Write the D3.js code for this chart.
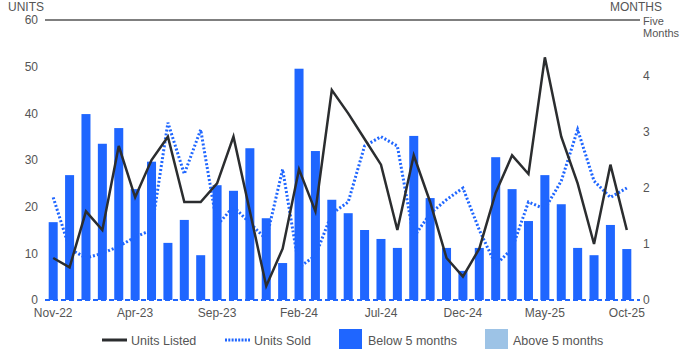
<!DOCTYPE html>
<html>
<head>
<meta charset="utf-8">
<script src="https://cdn.jsdelivr.net/npm/d3@7"></script>
<style>
  html, body { margin: 0; padding: 0; background: #fff; }
  svg { display: block; font-family: "Liberation Sans", Arial, sans-serif; }
</style>
</head>
<body>
<svg id="chart" width="700" height="350"></svg>
<script>
// Monthly categories
const months = [
  "Nov-22","Dec-22","Jan-23","Feb-23","Mar-23","Apr-23","May-23","Jun-23","Jul-23","Aug-23","Sep-23","Oct-23",
  "Nov-23","Dec-23","Jan-24","Feb-24","Mar-24","Apr-24","May-24","Jun-24","Jul-24","Aug-24","Sep-24","Oct-24",
  "Nov-24","Dec-24","Jan-25","Feb-25","Mar-25","Apr-25","May-25","Jun-25","Jul-25","Aug-25","Sep-25","Oct-25"
];

// Units listed per month (left axis)
const unitsListed = [
  9, 7, 19, 15, 33, 22, 30, 35, 21, 21, 25, 35,
  19, 3, 11, 28, 19, 45, 40, 34.5, 29, 15, 31, 21,
  9, 5, 11, 23, 31, 27, 52, 35, 25, 12, 29, 15
];

// Units sold per month (left axis)
const unitsSold = [
  22, 11, 9, 10, 11.5, 13.5, 15, 38, 27, 36.5, 16, 20,
  16.5, 13, 28, 7, 9.5, 18.5, 21, 33, 35, 33, 13.5, 18.5,
  21.5, 24, 15, 7.5, 11, 21, 19.5, 25.5, 36.5, 25.5, 22, 24
];

// Months of inventory (right axis)
const monthsSupply = [
  1.39, 2.23, 3.32, 2.79, 3.07, 1.98, 2.47, 1.02, 1.43, 0.80, 2.05, 1.95,
  2.71, 1.46, 0.66, 4.13, 2.66, 1.79, 1.55, 1.25, 1.09, 0.93, 2.93, 1.82,
  0.93, 0.52, 0.93, 2.55, 1.98, 1.41, 2.23, 1.71, 0.93, 0.80, 1.34, 0.91
];

const leftTicks = [0, 10, 20, 30, 40, 50, 60];
const rightTicks = [0, 1, 2, 3, 4];
const xTickLabels = ["Nov-22","Apr-23","Sep-23","Feb-24","Jul-24","Dec-24","May-25","Oct-25"];
const threshold = 5;

const colors = {
  below: "#1F66FF",
  above: "#9DC3E6",
  listed: "#2B2D2F",
  sold: "#1F66FF",
  text: "#555555"
};

const svg = d3.select("#chart");
const plot = { left: 45, right: 635, top: 20, bottom: 300 };

const x = d3.scaleBand()
  .domain(months)
  .range([plot.left, plot.right])
  .paddingInner(0.45)
  .paddingOuter(0.225);

const yL = d3.scaleLinear().domain([0, 60]).range([plot.bottom, plot.top]);
const yR = d3.scaleLinear().domain([0, 5]).range([plot.bottom, plot.top]);
const cx = m => x(m) + x.bandwidth() / 2;

// top reference line
svg.append("line")
  .attr("x1", plot.left).attr("x2", 640)
  .attr("y1", yL(60)).attr("y2", yL(60))
  .attr("stroke", "#555").attr("stroke-width", 1.5);

// left axis labels
const leftAxis = d3.axisLeft(yL).tickValues(leftTicks).tickSize(0).tickPadding(7);
const gl = svg.append("g").attr("transform", `translate(${plot.left},0)`).call(leftAxis);
gl.select(".domain").remove();
gl.selectAll("text").attr("fill", colors.text).style("font-size", "12px");

// right axis labels
const rightAxis = d3.axisRight(yR).tickValues(rightTicks).tickFormat(d3.format("d"))
  .tickSize(0).tickPadding(0);
const gr = svg.append("g").attr("transform", `translate(643,0)`).call(rightAxis);
gr.select(".domain").remove();
gr.selectAll("text").attr("fill", colors.text).style("font-size", "12px");
svg.append("text").attr("x", 643).attr("y", 24.5)
  .attr("fill", colors.text).style("font-size", "11px").text("Five");
svg.append("text").attr("x", 643).attr("y", 36.5)
  .attr("fill", colors.text).style("font-size", "11px").text("Months");

// axis titles
svg.append("text").attr("x", 8).attr("y", 11).attr("fill", colors.text)
  .style("font-size", "12px").text("UNITS");
svg.append("text").attr("x", 610).attr("y", 11).attr("fill", colors.text)
  .style("font-size", "12px").text("MONTHS");

// bars (months of inventory)
svg.append("g").selectAll("rect")
  .data(months.map((m, i) => ({ m, v: monthsSupply[i] })))
  .join("rect")
  .attr("x", d => x(d.m))
  .attr("width", x.bandwidth())
  .attr("y", d => yR(d.v))
  .attr("height", d => yR(0) - yR(d.v))
  .attr("fill", d => d.v < threshold ? colors.below : colors.above);

// baseline
svg.append("line")
  .attr("x1", plot.left).attr("x2", 640)
  .attr("y1", plot.bottom).attr("y2", plot.bottom)
  .attr("stroke", colors.below).attr("stroke-width", 2)
  .attr("stroke-dasharray", "5,3");

// lines
const line = d3.line().x(d => cx(d.m)).y(d => yL(d.v));

svg.append("path")
  .datum(months.map((m, i) => ({ m, v: unitsSold[i] })))
  .attr("d", line)
  .attr("fill", "none")
  .attr("stroke", colors.sold)
  .attr("stroke-width", 3)
  .attr("stroke-dasharray", "2,2");

svg.append("path")
  .datum(months.map((m, i) => ({ m, v: unitsListed[i] })))
  .attr("d", line)
  .attr("fill", "none")
  .attr("stroke", colors.listed)
  .attr("stroke-width", 2.5)
  .attr("stroke-linejoin", "miter");

// x tick labels
svg.append("g").selectAll("text")
  .data(xTickLabels)
  .join("text")
  .attr("x", d => cx(d))
  .attr("y", 317)
  .attr("text-anchor", "middle")
  .attr("fill", colors.text)
  .style("font-size", "12px")
  .text(d => d);

// legend
const legend = svg.append("g").style("font-size", "12.5px");
legend.append("line").attr("x1", 102).attr("x2", 127).attr("y1", 340).attr("y2", 340)
  .attr("stroke", colors.listed).attr("stroke-width", 3);
legend.append("text").attr("x", 131).attr("y", 345).attr("fill", colors.text).text("Units Listed");
legend.append("line").attr("x1", 225).attr("x2", 250).attr("y1", 340).attr("y2", 340)
  .attr("stroke", colors.sold).attr("stroke-width", 3).attr("stroke-dasharray", "2,1.3");
legend.append("text").attr("x", 254).attr("y", 345).attr("fill", colors.text).text("Units Sold");
legend.append("rect").attr("x", 339).attr("y", 329).attr("width", 23).attr("height", 20)
  .attr("fill", colors.below);
legend.append("text").attr("x", 368).attr("y", 345).attr("fill", colors.text).text("Below 5 months");
legend.append("rect").attr("x", 485).attr("y", 329).attr("width", 23).attr("height", 20)
  .attr("fill", colors.above);
legend.append("text").attr("x", 513).attr("y", 345).attr("fill", colors.text).text("Above 5 months");
</script>
</body>
</html>
